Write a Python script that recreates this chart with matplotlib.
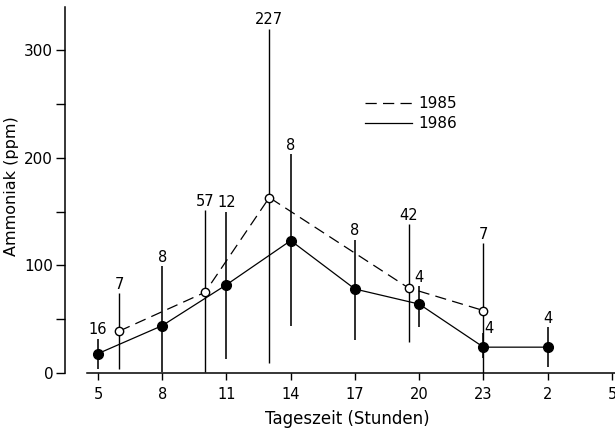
import matplotlib
matplotlib.use('Agg')
import matplotlib.pyplot as plt
from matplotlib.lines import Line2D
from matplotlib.ticker import MultipleLocator

plt.rcParams['font.family'] = ['DejaVu Sans']

# 1985: offene Kreise, gestrichelt
stunden_1985 = [6, 10, 13, 19.5, 23]
mittel_1985 = [39, 75, 163, 79, 58]
min_1985 = [4, 1, 9, 29, 0]
max_1985 = [74, 151, 320, 138, 121]
n_1985 = [7, 57, 227, 42, 7]

# 1986: volle Kreise, durchgezogen
stunden_1986 = [5, 8, 11, 14, 17, 20, 23, 26]
mittel_1986 = [18, 44, 82, 123, 78, 64, 24, 24]
min_1986 = [4, 1, 13, 44, 31, 43, 14, 6]
max_1986 = [32, 99, 150, 203, 124, 81, 37, 43]
n_1986 = [16, 8, 12, 8, 8, 4, 4, 4]

# Achse: Tageszeit laeuft ueber Mitternacht weiter
tick_pos = [5, 8, 11, 14, 17, 20, 23, 26, 29]
tick_labels = ['5', '8', '11', '14', '17', '20', '23', '2', '5']

fig = plt.figure(figsize=(6.15, 4.33), dpi=100)
ax = fig.add_axes([65/615, 60/433, 550/615, 366/433])

dash = (0, (9, 5))

ax.vlines(stunden_1985, min_1985, max_1985, color='black', lw=1.0, clip_on=False)
ax.vlines(stunden_1986, min_1986, max_1986, color='black', lw=1.15, clip_on=False)

ax.plot(stunden_1985, mittel_1985, color='black', lw=0.9, ls=dash,
        marker='o', ms=6, mfc='white', mec='black', mew=1.0, zorder=3)
ax.plot(stunden_1986, mittel_1986, color='black', lw=0.9,
        marker='o', ms=7, mfc='black', mec='black', zorder=4)

# Anzahl Messungen ueber den Balken
for h, v, n in zip(stunden_1985, max_1985, n_1985):
    ax.annotate(str(n), (h, v), xytext=(0, 3), textcoords='offset points',
                ha='center', va='baseline', fontsize=10.5)
for h, v, n in zip(stunden_1986, max_1986, n_1986):
    if h == 23:
        ax.annotate(str(n), (h, v), xytext=(0.5, 0), textcoords='offset points',
                    ha='left', va='baseline', fontsize=10.5)
    else:
        ax.annotate(str(n), (h, v), xytext=(0, 3), textcoords='offset points',
                    ha='center', va='baseline', fontsize=10.5)

ax.set_xlim(3.46, 29.14)
ax.set_ylim(0, 340)

ax.set_xticks(tick_pos)
ax.set_xticklabels(tick_labels)
ax.set_yticks([0, 100, 200, 300])
ax.yaxis.set_minor_locator(MultipleLocator(50))

ax.tick_params(axis='x', direction='out', length=5, width=1, pad=5, labelsize=10.5)
ax.tick_params(axis='y', which='both', direction='out', length=6.5, width=1,
               pad=2, labelsize=11)

for s in ['top', 'right']:
    ax.spines[s].set_visible(False)
ax.spines['bottom'].set_bounds(4.49, 29.14)
ax.spines['left'].set_bounds(0, 340)
ax.spines['bottom'].set_linewidth(1.1)
ax.spines['left'].set_linewidth(1.1)

ax.set_xlabel('Tageszeit (Stunden)', fontsize=12, va='top')
ax.xaxis.set_label_coords(0.513, -0.101)
ax.set_ylabel('Ammoniak (ppm)', fontsize=11.5)
ax.yaxis.set_label_coords(-0.0836, 0.51)

handles = [Line2D([], [], color='black', lw=0.9, ls=dash),
           Line2D([], [], color='black', lw=0.9)]
ax.legend(handles, ['1985', '1986'], loc='upper left',
          bbox_to_anchor=(365/615, 1 - 96/433), bbox_transform=fig.transFigure,
          frameon=False, borderpad=0, borderaxespad=0, fontsize=11,
          handlelength=3.07, handletextpad=0.4, labelspacing=0.35)

fig.savefig('out.png', dpi=100)
